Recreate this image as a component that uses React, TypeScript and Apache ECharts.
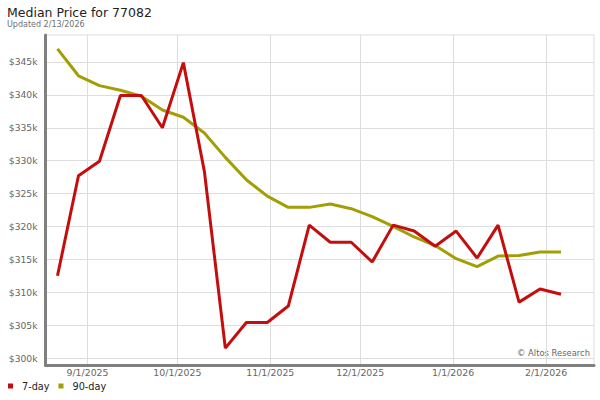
import React, { useEffect, useRef } from "react";
import * as echarts from "echarts";

const weekDates = [
  "2025-08-22", "2025-08-29", "2025-09-05", "2025-09-12", "2025-09-19",
  "2025-09-26", "2025-10-03", "2025-10-10", "2025-10-17", "2025-10-24",
  "2025-10-31", "2025-11-07", "2025-11-14", "2025-11-21", "2025-11-28",
  "2025-12-05", "2025-12-12", "2025-12-19", "2025-12-26", "2026-01-02",
  "2026-01-09", "2026-01-16", "2026-01-23", "2026-01-30", "2026-02-06",
];

const sevenDay = [
  312.5, 327.7, 329.9, 339.9, 339.9, 335.0, 344.9, 328.4, 301.5, 305.4,
  305.4, 307.9, 320.2, 317.6, 317.6, 314.6, 320.2, 319.3, 317.0, 319.3,
  315.2, 320.2, 308.5, 310.5, 309.7,
];

const ninetyDay = [
  347.0, 342.9, 341.4, 340.7, 339.8, 337.7, 336.6, 334.2, 330.5, 327.1,
  324.6, 322.9, 322.9, 323.4, 322.7, 321.5, 320.0, 318.4, 317.1, 315.1,
  313.9, 315.5, 315.6, 316.1, 316.1,
];

const yTicks = [300, 305, 310, 315, 320, 325, 330, 335, 340, 345];

const axisStart = "2025-08-18";
const axisEnd = "2026-02-17";

function buildDays(start: string, end: string): string[] {
  const out: string[] = [];
  const d = new Date(start + "T00:00:00Z");
  const e = new Date(end + "T00:00:00Z");
  while (d.getTime() <= e.getTime()) {
    out.push(d.toISOString().slice(0, 10));
    d.setUTCDate(d.getUTCDate() + 1);
  }
  return out;
}

const fmtDate = (s: string) =>
  `${parseInt(s.slice(5, 7), 10)}/${parseInt(s.slice(8, 10), 10)}/${s.slice(0, 4)}`;

const isMonthStart = (_i: number, v: string) => v.slice(8, 10) === "01";

const FONT = "DejaVu Sans";

export default function App() {
  const ref = useRef<HTMLDivElement>(null);

  useEffect(() => {
    if (!ref.current) return;
    const chart = echarts.init(ref.current, null, { renderer: "svg" });
    const days = buildDays(axisStart, axisEnd);
    chart.setOption({
      animation: false,
      backgroundColor: "#ffffff",
      textStyle: { fontFamily: FONT },
      grid: {
        left: 45.5,
        right: 6,
        top: 35,
        bottom: 35,
        show: true,
        borderColor: "#dddddd",
        borderWidth: 1,
        backgroundColor: "transparent",
        containLabel: false,
      },
      legend: {
        left: 8,
        top: 381,
        padding: 0,
        icon: "rect",
        itemWidth: 5,
        itemHeight: 5,
        itemGap: 9,
        textStyle: {
          fontFamily: FONT,
          fontSize: 9.7,
          color: "#222222",
          padding: [0, 0, 0, 4],
        },
        data: ["7-day", "90-day"],
      },
      xAxis: {
        type: "category",
        data: days,
        boundaryGap: false,
        axisLine: { show: true, lineStyle: { color: "#808080", width: 3 } },
        axisTick: { show: false },
        axisLabel: {
          interval: isMonthStart,
          formatter: (v: string) => fmtDate(v),
          color: "#666666",
          fontFamily: FONT,
          fontSize: 9.4,
          margin: 3,
        },
        splitLine: {
          show: true,
          interval: isMonthStart,
          lineStyle: { color: "#dddddd", width: 1 },
        },
      },
      yAxis: {
        type: "value",
        min: 298.94,
        max: 349.1,
        axisLine: { show: true, lineStyle: { color: "#808080", width: 3 } },
        axisTick: { show: false, customValues: yTicks },
        axisLabel: {
          customValues: yTicks,
          formatter: (v: number) => `$${v}k`,
          color: "#666666",
          fontFamily: FONT,
          fontSize: 9.2,
          margin: 8,
        },
        splitLine: { show: true, lineStyle: { color: "#dddddd", width: 1 } },
      },
      series: [
        {
          name: "90-day",
          type: "line",
          data: weekDates.map((d, i) => [d, ninetyDay[i]]),
          showSymbol: false,
          symbol: "none",
          lineStyle: { color: "#a29f06", width: 3 },
          itemStyle: { color: "#a29f06" },
          z: 2,
        },
        {
          name: "7-day",
          type: "line",
          data: weekDates.map((d, i) => [d, sevenDay[i]]),
          showSymbol: false,
          symbol: "none",
          lineStyle: { color: "#c40e0e", width: 3 },
          itemStyle: { color: "#c40e0e" },
          z: 3,
        },
      ],
      graphic: [
        {
          type: "text",
          left: 7,
          top: 6,
          style: {
            text: "Median Price for 77082",
            fontFamily: FONT,
            fontSize: 12.5,
            fill: "#222222",
          },
        },
        {
          type: "text",
          left: 7,
          top: 20,
          style: {
            text: "Updated 2/13/2026",
            fontFamily: FONT,
            fontSize: 8,
            fill: "#707070",
          },
        },
        {
          type: "text",
          right: 10,
          top: 349,
          style: {
            text: "© Altos Research",
            fontFamily: FONT,
            fontSize: 8.4,
            fill: "#666666",
          },
        },
      ],
    });
    return () => chart.dispose();
  }, []);

  return (
    <div
      ref={ref}
      style={{ position: "fixed", left: 0, top: 0, width: 600, height: 400 }}
    />
  );
}
